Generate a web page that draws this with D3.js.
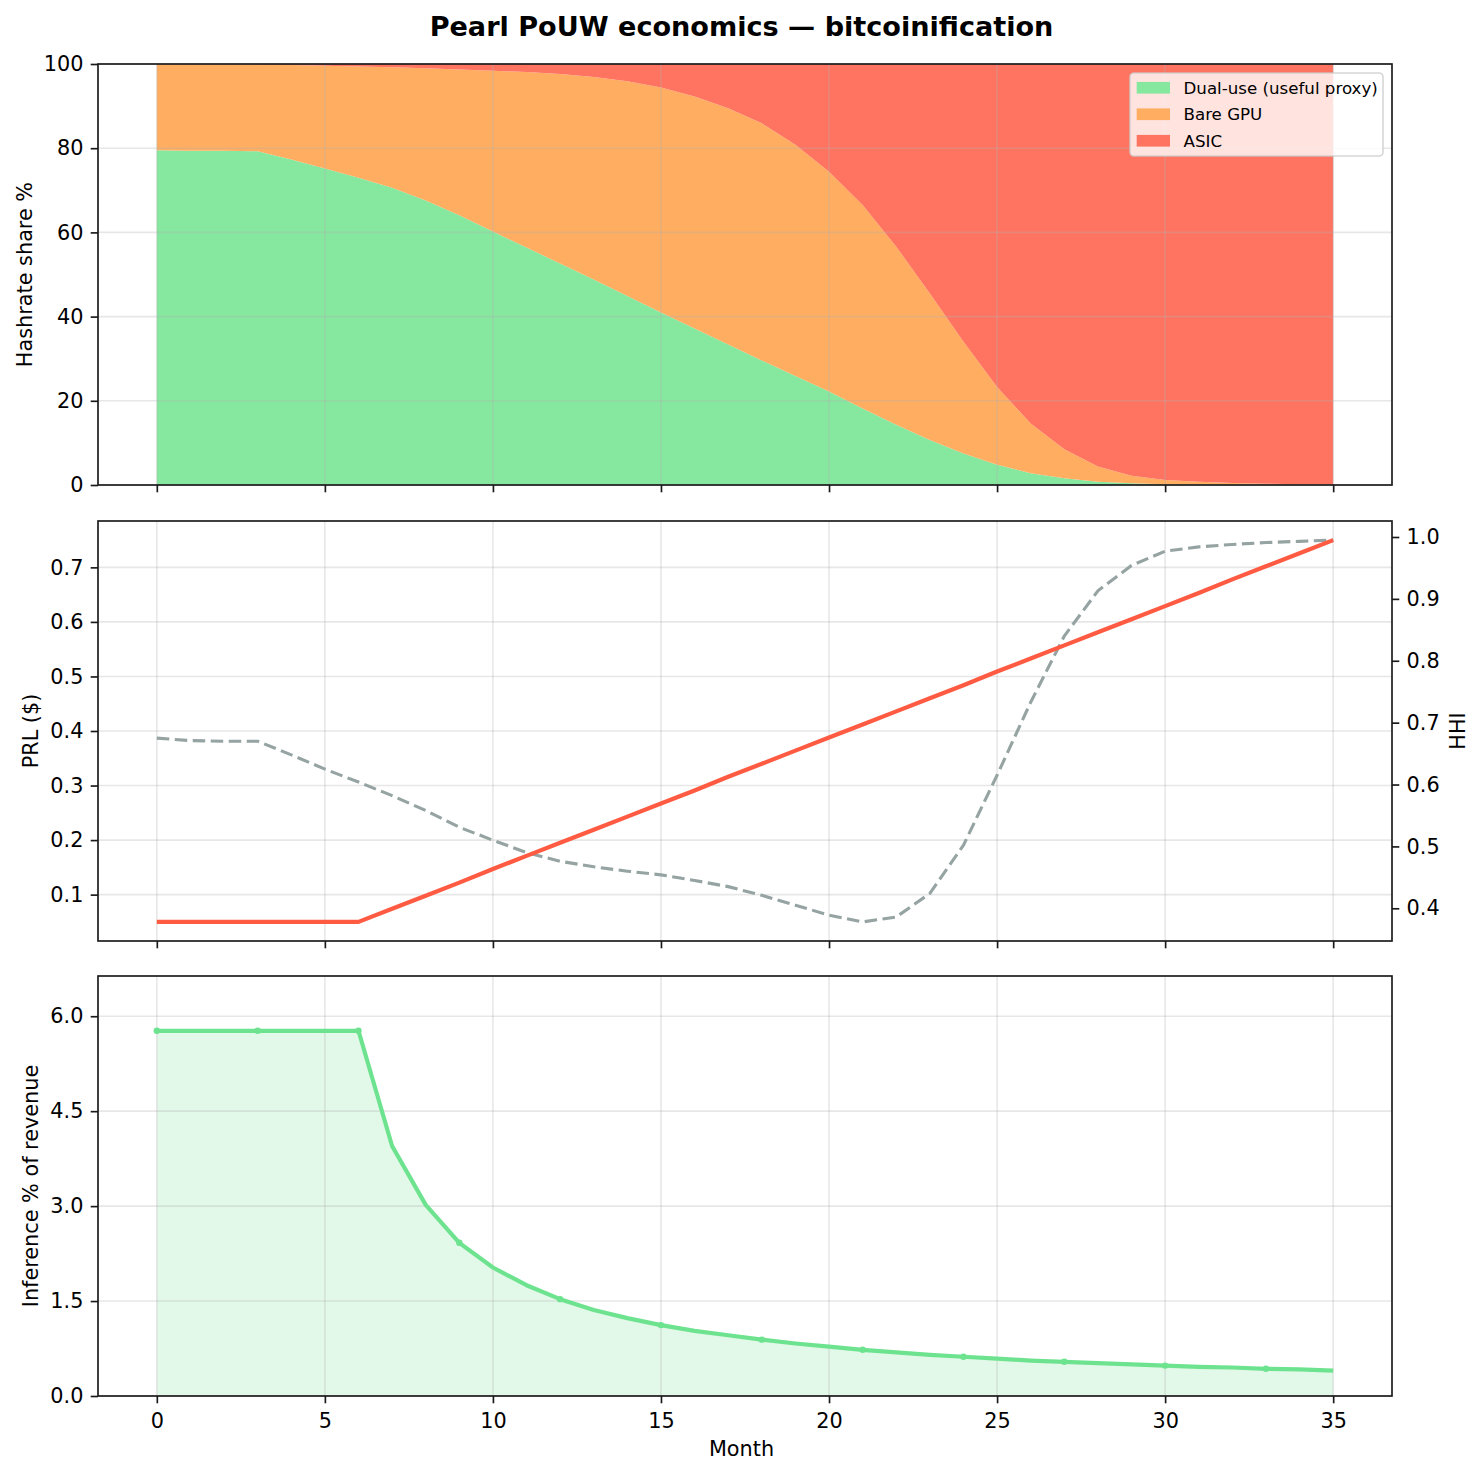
<!DOCTYPE html>
<html>
<head>
<meta charset="utf-8">
<script src="https://cdn.jsdelivr.net/npm/d3@7.9.0/dist/d3.min.js"></script>
<style>
  body { margin: 0; background: #fff; }
  svg { display: block; font-family: "DejaVu Sans", sans-serif; }
</style>
</head>
<body>
<svg id="chart" width="1483" height="1475"></svg>
<script>
// month index on the x axis
const months = [0, 1, 2, 3, 4, 5, 6, 7, 8, 9, 10, 11, 12, 13, 14, 15, 16, 17,
  18, 19, 20, 21, 22, 23, 24, 25, 26, 27, 28, 29, 30, 31, 32, 33, 34, 35];

// hashrate share % by miner type
const dualUse = [79.5, 79.4, 79.4, 79.3, 77.3, 75.2, 73.0, 70.6, 67.6, 64.1, 60.2, 56.4,
  52.6, 48.8, 44.9, 41.0, 37.2, 33.4, 29.6, 25.9, 22.2, 18.2, 14.3, 10.7, 7.5, 4.8, 2.8,
  1.6, 0.8, 0.4, 0.2, 0.1, 0.05, 0.03, 0.02, 0.01];
const bareGpu = [20.5, 20.55, 20.5, 20.55, 22.45, 24.4, 26.4, 28.6, 31.4, 34.6, 38.2, 41.7,
  45.0, 48.1, 51.0, 53.4, 55.1, 56.1, 56.3, 54.9, 52.2, 48.3, 42.3, 34.8, 26.5, 18.5, 11.8,
  6.9, 3.6, 1.8, 1.0, 0.7, 0.45, 0.27, 0.18, 0.09];
const asic = [0, 0.05, 0.1, 0.15, 0.25, 0.4, 0.6, 0.8, 1.0, 1.3, 1.6, 1.9, 2.4, 3.1, 4.1,
  5.6, 7.7, 10.5, 14.1, 19.2, 25.6, 33.5, 43.4, 54.5, 66.0, 76.7, 85.4, 91.5, 95.6, 97.8,
  98.8, 99.2, 99.5, 99.7, 99.8, 99.9];

// token price and concentration
const prlPrice = [0.05, 0.05, 0.05, 0.05, 0.05, 0.05, 0.05, 0.074, 0.098, 0.122, 0.147,
  0.171, 0.195, 0.219, 0.243, 0.267, 0.291, 0.316, 0.340, 0.364, 0.388, 0.412, 0.436,
  0.460, 0.484, 0.509, 0.533, 0.557, 0.581, 0.605, 0.629, 0.653, 0.678, 0.702, 0.726, 0.750];
const hhi = [0.675, 0.671, 0.670, 0.670, 0.648, 0.625, 0.604, 0.582, 0.558, 0.531, 0.510,
  0.490, 0.476, 0.467, 0.460, 0.454, 0.445, 0.435, 0.421, 0.405, 0.389, 0.378, 0.386,
  0.424, 0.502, 0.615, 0.733, 0.840, 0.913, 0.954, 0.977, 0.984, 0.988, 0.991, 0.993, 0.995];

// inference share of miner revenue
const inferencePct = [5.77, 5.77, 5.77, 5.77, 5.77, 5.77, 5.77, 3.95, 3.02, 2.42, 2.03,
  1.75, 1.53, 1.36, 1.23, 1.12, 1.03, 0.96, 0.89, 0.83, 0.78, 0.73, 0.69, 0.65, 0.62,
  0.59, 0.56, 0.54, 0.52, 0.50, 0.48, 0.46, 0.45, 0.43, 0.42, 0.40];

const monthTicks = [0, 5, 10, 15, 20, 25, 30, 35];
const shareTicks = [0, 20, 40, 60, 80, 100];
const prlTicks = [0.1, 0.2, 0.3, 0.4, 0.5, 0.6, 0.7];
const hhiTicks = [0.4, 0.5, 0.6, 0.7, 0.8, 0.9, 1.0];
const inferenceTicks = [0, 1.5, 3.0, 4.5, 6.0];
const seriesKeys = ['dual', 'gpu', 'asic'];
const seriesNames = ['Dual-use (useful proxy)', 'Bare GPU', 'ASIC'];
const seriesColors = ['#86e89f', '#ffad61', '#ff7461'];

const svg = d3.select('#chart');
const left = 98, right = 1392;
const panels = [
  { top: 64, bottom: 485 },
  { top: 521, bottom: 941 },
  { top: 976, bottom: 1396 },
];
const fontSize = 20.8;
const tickLen = 7.3;
const ink = '#1a1a1a';

const x = d3.scaleLinear().domain([-1.75, 36.75]).range([left, right]);

// matplotlib-ish 5% margins
function padded(values) {
  const [lo, hi] = d3.extent(values);
  const m = (hi - lo) * 0.05;
  return [lo - m, hi + m];
}

function grid(g, p, yScale, yTicks) {
  const gg = g.append('g').attr('stroke', '#b0b0b0').attr('stroke-opacity', 0.3).attr('stroke-width', 1.6);
  monthTicks.forEach((t) => {
    gg.append('line').attr('x1', x(t)).attr('x2', x(t)).attr('y1', p.top).attr('y2', p.bottom);
  });
  yTicks.forEach((t) => {
    gg.append('line').attr('x1', left).attr('x2', right).attr('y1', yScale(t)).attr('y2', yScale(t));
  });
}

function styleAxis(ax) {
  ax.select('.domain').remove();
  ax.selectAll('.tick line').attr('stroke', ink).attr('stroke-width', 1.67);
  ax.selectAll('.tick text').attr('fill', '#000').attr('font-size', fontSize)
    .attr('font-family', '"DejaVu Sans", sans-serif');
}

function frame(p, withLabels, rightScale) {
  const bx = svg.append('g').attr('transform', `translate(0,${p.bottom})`)
    .call(d3.axisBottom(x).tickValues(monthTicks).tickSize(tickLen).tickPadding(10)
      .tickFormat(withLabels ? d3.format('d') : () => ''));
  styleAxis(bx);
  svg.append('rect').attr('x', left).attr('y', p.top)
    .attr('width', right - left).attr('height', p.bottom - p.top)
    .attr('fill', 'none').attr('stroke', ink).attr('stroke-width', 1.67);
}

function leftAxis(yScale, ticks, fmt) {
  const ax = svg.append('g').attr('transform', `translate(${left},0)`)
    .call(d3.axisLeft(yScale).tickValues(ticks).tickSize(tickLen).tickPadding(7.3).tickFormat(fmt));
  styleAxis(ax);
}

function yLabel(text, cx, cy) {
  svg.append('text').attr('transform', `translate(${cx},${cy}) rotate(-90)`)
    .attr('text-anchor', 'middle').attr('font-size', fontSize).text(text);
}

// ---- panel 1: stacked hashrate share
const p1 = panels[0];
const y1 = d3.scaleLinear().domain([0, 100]).range([p1.bottom, p1.top]);
const rows = months.map((m, i) => ({ month: m, dual: dualUse[i], gpu: bareGpu[i], asic: asic[i] }));
const stacked = d3.stack().keys(seriesKeys)(rows);
const area = d3.area().x((d) => x(d.data.month)).y0((d) => y1(d[0])).y1((d) => y1(d[1]));
const g1 = svg.append('g');
stacked.forEach((s, idx) => {
  g1.append('path').attr('d', area(s)).attr('fill', seriesColors[idx]);
});
grid(g1, p1, y1, shareTicks);
leftAxis(y1, shareTicks, d3.format('d'));
frame(p1, false);
yLabel('Hashrate share %', 32, (p1.top + p1.bottom) / 2);

// legend
const lg = svg.append('g');
lg.append('rect').attr('x', 1130).attr('y', 73).attr('width', 253).attr('height', 83)
  .attr('rx', 4).attr('fill', '#fff').attr('fill-opacity', 0.8)
  .attr('stroke', '#cccccc').attr('stroke-opacity', 0.8).attr('stroke-width', 1.6);
seriesNames.forEach((name, idx) => {
  const cy = 87.7 + idx * 26.5;
  lg.append('rect').attr('x', 1136.7).attr('y', cy - 5.8).attr('width', 33.3).attr('height', 11.7)
    .attr('fill', seriesColors[idx]);
  lg.append('text').attr('x', 1183.5).attr('y', cy).attr('dy', '0.36em')
    .attr('font-size', 16.67).text(name);
});

// ---- panel 2: PRL price + HHI
const p2 = panels[1];
const y2 = d3.scaleLinear().domain(padded(prlPrice)).range([p2.bottom, p2.top]);
const y2r = d3.scaleLinear().domain(padded(hhi)).range([p2.bottom, p2.top]);
const g2 = svg.append('g');
grid(g2, p2, y2, prlTicks);
g2.append('path')
  .attr('d', d3.line().x((d, i) => x(months[i])).y((d) => y2r(d))(hhi))
  .attr('fill', 'none').attr('stroke', '#95a3a2').attr('stroke-width', 3.1)
  .attr('stroke-dasharray', '12.5,5.5');
g2.append('path')
  .attr('d', d3.line().x((d, i) => x(months[i])).y((d) => y2(d))(prlPrice))
  .attr('fill', 'none').attr('stroke', '#ff5b42').attr('stroke-width', 4.2)
  .attr('stroke-linejoin', 'round');
leftAxis(y2, prlTicks, d3.format('.1f'));
const rax = svg.append('g').attr('transform', `translate(${right},0)`)
  .call(d3.axisRight(y2r).tickValues(hhiTicks).tickSize(tickLen).tickPadding(7.3).tickFormat(d3.format('.1f')));
styleAxis(rax);
frame(p2, false);
yLabel('PRL ($)', 38, (p2.top + p2.bottom) / 2);
yLabel('HHI', 1465, (p2.top + p2.bottom) / 2);

// ---- panel 3: inference % of revenue
const p3 = panels[2];
const y3 = d3.scaleLinear().domain([0, d3.max(inferencePct) * 1.15]).range([p3.bottom, p3.top]);
const g3 = svg.append('g');
g3.append('path')
  .attr('d', d3.area().x((d, i) => x(months[i])).y0(y3(0)).y1((d) => y3(d))(inferencePct))
  .attr('fill', '#e2f8e8');
grid(g3, p3, y3, inferenceTicks);
g3.append('path')
  .attr('d', d3.line().x((d, i) => x(months[i])).y((d) => y3(d))(inferencePct))
  .attr('fill', 'none').attr('stroke', '#6ee38f').attr('stroke-width', 4.2)
  .attr('stroke-linejoin', 'round');
// markers every third month
g3.selectAll('circle').data(inferencePct.filter((d, i) => i % 3 === 0)).join('circle')
  .attr('cx', (d, i) => x(months[i * 3])).attr('cy', (d) => y3(d)).attr('r', 3.2)
  .attr('fill', '#6ee38f');
leftAxis(y3, inferenceTicks, d3.format('.1f'));
frame(p3, true);
yLabel('Inference % of revenue', 38, (p3.top + p3.bottom) / 2);

svg.append('text').attr('x', 741.5).attr('y', 1456).attr('text-anchor', 'middle')
  .attr('font-size', fontSize).text('Month');

// title
svg.append('text').attr('x', 741.5).attr('y', 36).attr('text-anchor', 'middle')
  .attr('font-size', 27.1).attr('font-weight', 'bold')
  .text('Pearl PoUW economics — bitcoinification');
</script>
</body>
</html>
